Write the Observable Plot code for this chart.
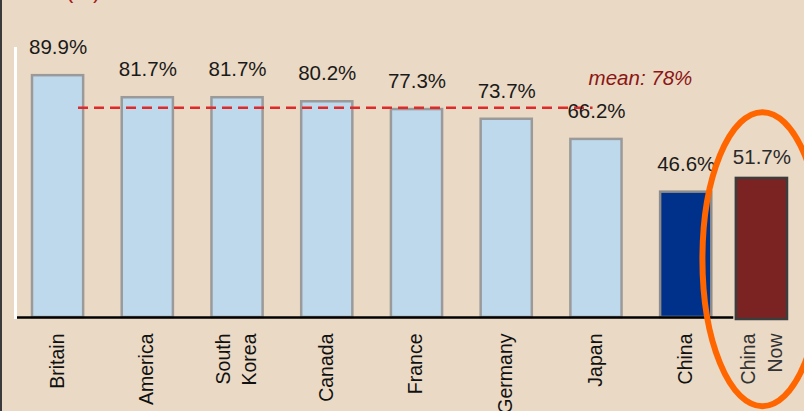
<!DOCTYPE html>
<html><head><meta charset="utf-8">
<script src="https://cdn.jsdelivr.net/npm/d3@7"></script>
<script src="https://cdn.jsdelivr.net/npm/@observablehq/plot@0.6"></script>
<style>
html,body{margin:0;padding:0;background:#ead9c4;overflow:hidden}
#wrap{position:relative;width:804px;height:411px;overflow:hidden}
#edge{position:absolute;left:0;top:0;width:2px;height:411px;background:#3a3a3a}
#title{position:absolute;left:66px;top:-20px;font:22px "Liberation Sans",Arial,sans-serif;color:#a31c1c;line-height:22px}
#wrap svg{position:absolute;left:0;top:0}
</style></head><body><div id="wrap"><div id="title">(%)</div></div>
<script>
const countries = ["Britain","America","South\nKorea","Canada","France","Germany","Japan","China","China\nNow"];
const rates = [89.9,81.7,81.7,80.2,77.3,73.7,66.2,46.6,51.7];
const fills = ["#bfd9ec","#bfd9ec","#bfd9ec","#bfd9ec","#bfd9ec","#bfd9ec","#bfd9ec","#00318a","#7b2323"];
const strokes = ["#9a9a9a","#9a9a9a","#9a9a9a","#9a9a9a","#9a9a9a","#9a9a9a","#9a9a9a","#8c8c8c","#3c3c3c"];
const labelColors = ["#111","#111","#111","#111","#111","#111","#111","#111","#333"];
const meanValue = 78;
const meanLabel = "mean: 78%";
const highlighted = "China\nNow";

const data = countries.map((name, i) => ({name, rate: rates[i], fill: fills[i], stroke: strokes[i], lc: labelColors[i]}));
const main = data.filter(d => d.name !== highlighted);
const now = data.filter(d => d.name === highlighted);
const meanData = [{v: meanValue, from: "Britain", to: "Japan", label: meanLabel}];
const baseData = [{v: 0, from: "Britain", to: "China"}];

const font = '"Liberation Sans", Arial, sans-serif';
const shift = -14;

function ellipseMark() {
  return (index, scales, values, dims) => {
    const x = scales.x;
    const cx = x(highlighted) + x.bandwidth() / 2 + shift;
    const cy = scales.y(21.5);
    const e = document.createElementNS("http://www.w3.org/2000/svg", "ellipse");
    e.setAttribute("cx", cx + 1);
    e.setAttribute("cy", cy);
    e.setAttribute("rx", 60);
    e.setAttribute("ry", 147);
    e.setAttribute("fill", "none");
    e.setAttribute("stroke", "#ff6600");
    e.setAttribute("stroke-width", 6);
    return e;
  };
}

const chart = Plot.plot({
  width: 804,
  height: 411,
  marginLeft: 32,
  marginRight: 3,
  marginTop: 48,
  marginBottom: 94,
  style: {background: "transparent", fontFamily: font},
  x: {domain: countries, paddingInner: 0.43, paddingOuter: 0, round: false, axis: null},
  y: {domain: [0, 100], axis: null},
  marks: [
    Plot.frame({anchor: "left", stroke: "white", strokeWidth: 3, dx: -17}),
    Plot.barY(main, {x: "name", y: "rate", fill: "fill", stroke: "stroke", strokeWidth: 2.5}),
    Plot.barY(now, {x: "name", y: "rate", fill: "fill", stroke: "stroke", strokeWidth: 2.5, dx: shift, insetBottom: -2}),
    Plot.ruleY(baseData, {y: "v", x1: "from", x2: "to", stroke: "#000", strokeWidth: 2.5, insetLeft: -15, insetRight: -22}),
    Plot.ruleY(meanData, {y: "v", x1: "from", x2: "to", stroke: "#e02a2a", strokeWidth: 2.5, strokeDasharray: "10,6", insetLeft: 46, insetRight: 29}),
    Plot.text(main, {x: "name", y: "rate", text: d => d.rate.toFixed(1) + "%", dy: -28, fontSize: 20.5, fill: "#1a1a1a"}),
    Plot.text(now, {x: "name", y: "rate", text: d => d.rate.toFixed(1) + "%", dy: -21, dx: shift, fontSize: 20.5, fill: "#2a2a2a"}),
    Plot.text(meanData, {x: "to", y: "v", text: "label", dx: 44, dy: -29, fontSize: 20.5, fontStyle: "italic", fill: "#8b1616"}),
    Plot.text(main, {x: "name", y: () => 0, text: "name", rotate: -90, textAnchor: "end", lineAnchor: "middle", lineHeight: 1.35, dy: 16, dx: -3, fontSize: 19.5, fill: "lc"}),
    Plot.text(now, {x: "name", y: () => 0, text: "name", rotate: -90, textAnchor: "end", lineAnchor: "middle", lineHeight: 1.35, dy: 16, dx: shift - 2, fontSize: 19.5, fill: "lc"}),
    ellipseMark()
  ]
});
const wrap = document.getElementById("wrap");
wrap.insertBefore(chart, wrap.firstChild);
const edge = document.createElement("div");
edge.id = "edge";
wrap.appendChild(edge);
</script>
</body></html>
